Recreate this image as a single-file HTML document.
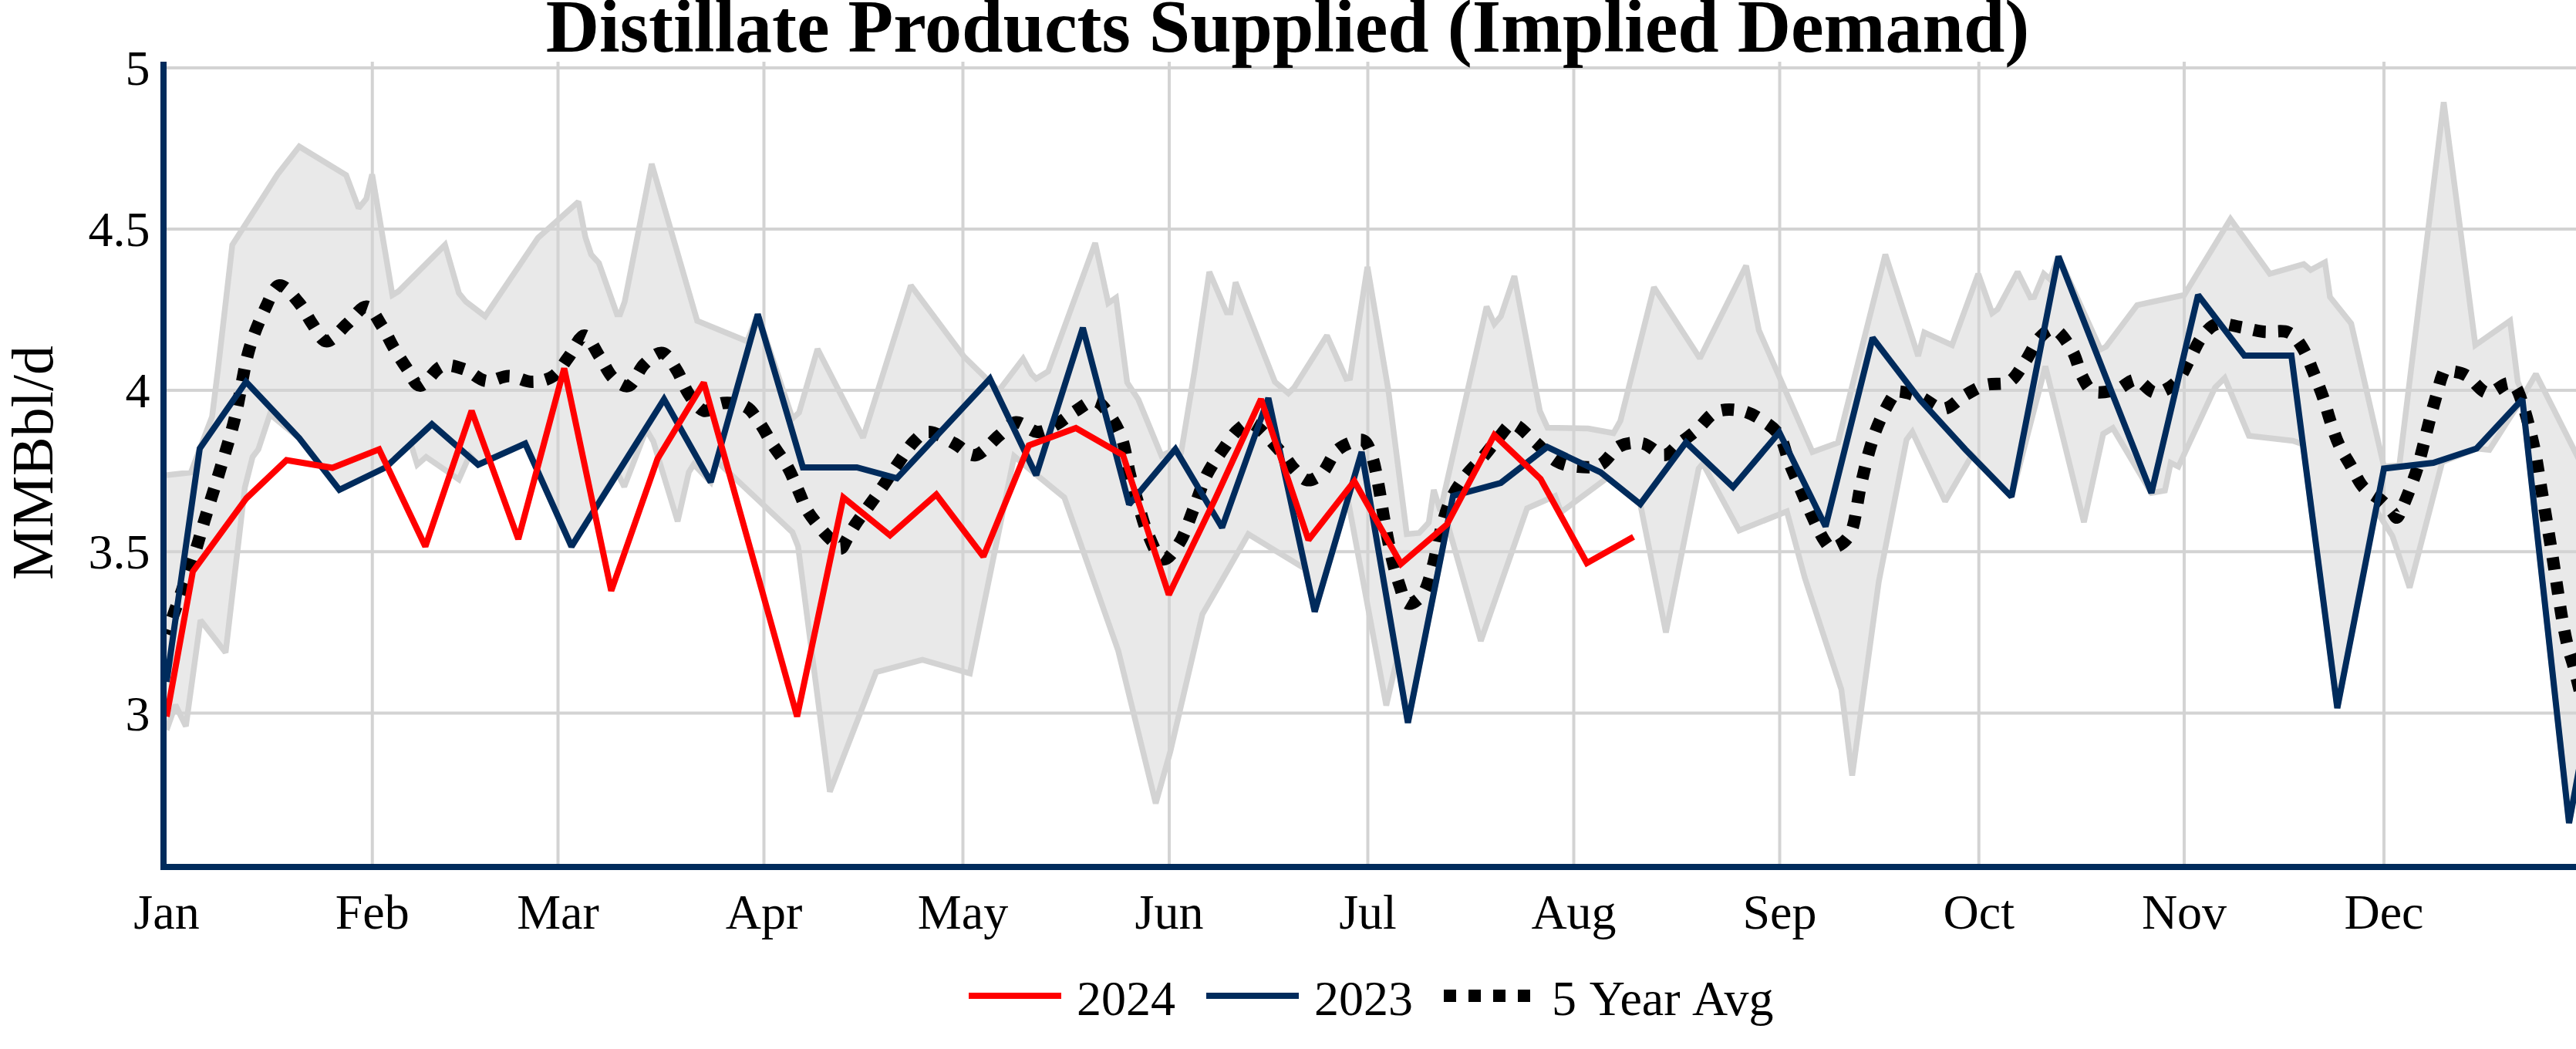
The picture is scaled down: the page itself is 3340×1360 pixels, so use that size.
<!DOCTYPE html>
<html><head><meta charset="utf-8"><title>Distillate Products Supplied (Implied Demand)</title>
<style>
html,body{margin:0;padding:0;background:#fff;}
body{width:3340px;height:1360px;overflow:hidden;}
svg{display:block;}
text{font-family:"Liberation Serif",serif;fill:#000;}
</style></head><body>
<svg width="3340" height="1360" viewBox="0 0 3340 1360">
<rect x="0" y="0" width="3340" height="1360" fill="#ffffff"/>
<defs><clipPath id="plot"><rect x="216" y="80" width="3124" height="1040"/></clipPath></defs>
<g stroke="#d3d3d3" stroke-width="4" fill="none">
<line x1="482.75" y1="80" x2="482.75" y2="1120"/>
<line x1="723.5" y1="80" x2="723.5" y2="1120"/>
<line x1="990.5" y1="80" x2="990.5" y2="1120"/>
<line x1="1248.5" y1="80" x2="1248.5" y2="1120"/>
<line x1="1516" y1="80" x2="1516" y2="1120"/>
<line x1="1773.5" y1="80" x2="1773.5" y2="1120"/>
<line x1="2040.5" y1="80" x2="2040.5" y2="1120"/>
<line x1="2307.5" y1="80" x2="2307.5" y2="1120"/>
<line x1="2565.75" y1="80" x2="2565.75" y2="1120"/>
<line x1="2832" y1="80" x2="2832" y2="1120"/>
<line x1="3091" y1="80" x2="3091" y2="1120"/>
<line x1="216" y1="88" x2="3340" y2="88"/>
<line x1="216" y1="297" x2="3340" y2="297"/>
<line x1="216" y1="506" x2="3340" y2="506"/>
<line x1="216" y1="715.3" x2="3340" y2="715.3"/>
<line x1="216" y1="924.5" x2="3340" y2="924.5"/>
</g>
<g clip-path="url(#plot)">
<polygon points="216.0,616.0 247.5,612.5 275.0,540.0 282.5,480.0 301.2,317.5 360.0,226.0 388.0,190.0 448.8,227.0 465.0,270.0 475.0,257.5 482.5,226.0 508.8,382.5 517.0,377.5 577.0,317.5 595.0,380.0 604.0,391.0 629.0,410.0 697.5,308.5 750.0,261.5 759.0,307.5 766.5,330.0 776.5,341.0 800.0,407.5 804.0,407.5 810.0,391.0 845.0,212.5 904.0,416.0 968.8,442.5 982.5,407.5 1027.5,542.5 1036.0,535.0 1060.0,452.5 1119.0,567.5 1181.0,370.0 1250.0,462.5 1295.0,506.5 1326.5,465.0 1337.5,485.0 1343.5,491.0 1359.0,481.5 1420.0,315.0 1437.0,393.0 1447.0,386.0 1461.5,496.0 1476.0,518.0 1506.0,591.0 1524.0,582.5 1531.0,589.0 1539.6,537.0 1549.0,480.0 1568.0,352.5 1590.5,405.0 1595.5,405.0 1602.0,366.0 1653.0,495.0 1670.5,510.0 1678.0,502.5 1720.5,435.0 1745.5,491.0 1750.5,490.0 1773.0,346.0 1800.0,505.0 1824.0,692.5 1840.0,691.0 1852.5,677.5 1859.0,635.0 1867.5,662.5 1927.5,397.5 1937.5,420.0 1946.0,410.0 1963.5,358.0 1996.5,532.5 2006.5,554.5 2059.0,555.5 2092.0,561.5 2101.0,545.5 2144.5,372.5 2204.0,464.5 2264.0,344.5 2280.5,428.0 2289.0,447.5 2350.0,586.0 2383.0,574.0 2444.5,330.0 2487.0,461.5 2495.0,431.0 2531.0,447.5 2565.0,355.0 2583.0,406.0 2590.0,401.0 2616.0,352.5 2632.5,385.5 2637.5,385.0 2650.0,355.0 2658.0,362.0 2669.0,332.5 2723.5,453.0 2730.5,449.5 2771.0,395.5 2832.0,382.5 2892.0,284.0 2943.0,355.0 2987.0,342.5 2996.0,350.0 3014.5,340.0 3021.0,385.0 3048.5,419.5 3091.0,605.0 3111.0,603.0 3168.5,132.5 3209.5,447.5 3254.5,416.0 3264.5,495.0 3272.0,512.5 3288.0,485.0 3340.0,588.0 3350.0,608.0 3350.0,965.0 3331.0,1067.0 3270.5,517.5 3259.0,534.0 3227.7,583.3 3211.0,581.5 3166.5,599.0 3124.3,761.7 3102.0,695.0 3080.0,660.0 3030.5,918.0 2986.0,576.0 2973.0,571.5 2916.0,565.0 2884.5,490.0 2872.0,502.5 2824.5,605.0 2814.5,600.0 2807.0,636.0 2789.5,639.0 2739.5,555.0 2727.0,562.5 2702.0,677.0 2652.0,475.0 2608.0,644.0 2557.0,590.0 2522.0,650.0 2479.5,560.0 2472.0,570.0 2436.0,754.0 2401.5,1005.5 2387.5,894.0 2340.0,749.0 2316.8,663.0 2254.9,687.8 2208.0,601.0 2202.4,607.7 2160.0,820.0 2126.8,653.5 2084.0,619.5 2024.0,664.0 2016.3,643.0 1980.0,659.0 1920.0,831.0 1876.8,679.0 1825.5,937.0 1811.5,853.5 1797.4,914.6 1747.5,647.0 1704.6,793.0 1692.4,737.6 1618.6,692.5 1559.0,796.5 1517.5,974.0 1498.5,1041.5 1450.0,844.0 1380.0,645.0 1345.0,616.5 1315.0,591.5 1257.5,873.0 1196.0,855.5 1136.0,871.5 1076.0,1026.5 1034.8,708.7 1027.4,690.0 929.5,598.0 921.5,625.0 899.5,602.0 893.2,612.0 878.6,676.0 847.0,572.0 838.0,557.0 809.4,631.0 800.0,612.0 741.0,708.5 681.0,575.0 620.0,602.5 609.0,590.0 595.0,621.5 552.5,592.5 541.0,602.5 532.5,575.0 500.0,606.0 440.0,635.0 388.0,568.0 350.0,537.0 335.0,582.5 327.5,592.5 317.5,632.0 292.5,846.0 260.0,804.0 241.0,941.5 227.5,914.0 216.0,946.5" fill="rgba(211,211,211,0.5)" stroke="none"/>
<polyline points="216.0,616.0 247.5,612.5 275.0,540.0 282.5,480.0 301.2,317.5 360.0,226.0 388.0,190.0 448.8,227.0 465.0,270.0 475.0,257.5 482.5,226.0 508.8,382.5 517.0,377.5 577.0,317.5 595.0,380.0 604.0,391.0 629.0,410.0 697.5,308.5 750.0,261.5 759.0,307.5 766.5,330.0 776.5,341.0 800.0,407.5 804.0,407.5 810.0,391.0 845.0,212.5 904.0,416.0 968.8,442.5 982.5,407.5 1027.5,542.5 1036.0,535.0 1060.0,452.5 1119.0,567.5 1181.0,370.0 1250.0,462.5 1295.0,506.5 1326.5,465.0 1337.5,485.0 1343.5,491.0 1359.0,481.5 1420.0,315.0 1437.0,393.0 1447.0,386.0 1461.5,496.0 1476.0,518.0 1506.0,591.0 1524.0,582.5 1531.0,589.0 1539.6,537.0 1549.0,480.0 1568.0,352.5 1590.5,405.0 1595.5,405.0 1602.0,366.0 1653.0,495.0 1670.5,510.0 1678.0,502.5 1720.5,435.0 1745.5,491.0 1750.5,490.0 1773.0,346.0 1800.0,505.0 1824.0,692.5 1840.0,691.0 1852.5,677.5 1859.0,635.0 1867.5,662.5 1927.5,397.5 1937.5,420.0 1946.0,410.0 1963.5,358.0 1996.5,532.5 2006.5,554.5 2059.0,555.5 2092.0,561.5 2101.0,545.5 2144.5,372.5 2204.0,464.5 2264.0,344.5 2280.5,428.0 2289.0,447.5 2350.0,586.0 2383.0,574.0 2444.5,330.0 2487.0,461.5 2495.0,431.0 2531.0,447.5 2565.0,355.0 2583.0,406.0 2590.0,401.0 2616.0,352.5 2632.5,385.5 2637.5,385.0 2650.0,355.0 2658.0,362.0 2669.0,332.5 2723.5,453.0 2730.5,449.5 2771.0,395.5 2832.0,382.5 2892.0,284.0 2943.0,355.0 2987.0,342.5 2996.0,350.0 3014.5,340.0 3021.0,385.0 3048.5,419.5 3091.0,605.0 3111.0,603.0 3168.5,132.5 3209.5,447.5 3254.5,416.0 3264.5,495.0 3272.0,512.5 3288.0,485.0 3340.0,588.0 3350.0,608.0" fill="none" stroke="#d3d3d3" stroke-width="7.5" stroke-linejoin="miter" stroke-miterlimit="2"/>
<polyline points="216.0,946.5 227.5,914.0 241.0,941.5 260.0,804.0 292.5,846.0 317.5,632.0 327.5,592.5 335.0,582.5 350.0,537.0 388.0,568.0 440.0,635.0 500.0,606.0 532.5,575.0 541.0,602.5 552.5,592.5 595.0,621.5 609.0,590.0 620.0,602.5 681.0,575.0 741.0,708.5 800.0,612.0 809.4,631.0 838.0,557.0 847.0,572.0 878.6,676.0 893.2,612.0 899.5,602.0 921.5,625.0 929.5,598.0 1027.4,690.0 1034.8,708.7 1076.0,1026.5 1136.0,871.5 1196.0,855.5 1257.5,873.0 1315.0,591.5 1345.0,616.5 1380.0,645.0 1450.0,844.0 1498.5,1041.5 1517.5,974.0 1559.0,796.5 1618.6,692.5 1692.4,737.6 1704.6,793.0 1747.5,647.0 1797.4,914.6 1811.5,853.5 1825.5,937.0 1876.8,679.0 1920.0,831.0 1980.0,659.0 2016.3,643.0 2024.0,664.0 2084.0,619.5 2126.8,653.5 2160.0,820.0 2202.4,607.7 2208.0,601.0 2254.9,687.8 2316.8,663.0 2340.0,749.0 2387.5,894.0 2401.5,1005.5 2436.0,754.0 2472.0,570.0 2479.5,560.0 2522.0,650.0 2557.0,590.0 2608.0,644.0 2652.0,475.0 2702.0,677.0 2727.0,562.5 2739.5,555.0 2789.5,639.0 2807.0,636.0 2814.5,600.0 2824.5,605.0 2872.0,502.5 2884.5,490.0 2916.0,565.0 2973.0,571.5 2986.0,576.0 3030.5,918.0 3080.0,660.0 3102.0,695.0 3124.3,761.7 3166.5,599.0 3211.0,581.5 3227.7,583.3 3259.0,534.0 3270.5,517.5 3331.0,1067.0 3350.0,965.0" fill="none" stroke="#d3d3d3" stroke-width="7.5" stroke-linejoin="miter" stroke-miterlimit="2"/>
<path d="M216.0,822.0C221.7,805.8 241.8,749.5 250.0,725.0C258.2,700.5 259.2,694.2 265.0,675.0C270.8,655.8 278.3,632.5 285.0,610.0C291.7,587.5 298.8,565.8 305.0,540.0C311.2,514.2 315.8,478.8 322.5,455.0C329.2,431.2 338.3,411.7 345.0,397.5C351.7,383.3 355.4,370.8 362.5,370.0C369.6,369.2 380.4,384.2 387.5,392.5C394.6,400.8 399.0,411.7 405.0,420.0C411.0,428.3 416.0,442.5 423.5,442.5C431.0,442.5 441.4,427.5 450.0,420.0C458.6,412.5 467.5,397.1 475.0,397.5C482.5,397.9 489.2,413.8 495.0,422.5C500.8,431.2 504.6,440.8 510.0,450.0C515.4,459.2 521.7,469.2 527.5,477.5C533.3,485.8 537.5,500.4 545.0,500.0C552.5,499.6 562.9,478.5 572.5,475.0C582.1,471.5 592.9,475.8 602.5,479.0C612.1,482.2 620.4,492.6 630.0,494.0C639.6,495.4 650.0,487.3 660.0,487.5C670.0,487.7 680.4,495.0 690.0,495.0C699.6,495.0 709.6,492.9 717.5,487.5C725.4,482.1 730.8,471.2 737.5,462.5C744.2,453.8 750.8,435.0 757.5,435.0C764.2,435.0 771.2,453.3 777.5,462.5C783.8,471.7 788.6,483.8 795.0,490.0C801.4,496.2 809.3,502.9 816.0,500.0C822.7,497.1 827.8,479.6 835.0,472.5C842.2,465.4 851.9,456.2 859.0,457.5C866.1,458.8 871.9,471.2 877.5,480.0C883.1,488.8 886.7,501.2 892.5,510.0C898.3,518.8 905.0,530.4 912.5,532.5C920.0,534.6 928.3,523.3 937.5,522.5C946.7,521.7 959.4,522.9 967.5,527.5C975.6,532.1 980.3,541.9 986.0,550.0C991.7,558.1 995.7,566.8 1001.5,576.0C1007.3,585.2 1015.2,594.7 1021.0,605.0C1026.8,615.3 1031.7,628.4 1036.0,638.0C1040.3,647.6 1041.9,654.2 1047.0,662.5C1052.1,670.8 1060.7,681.1 1066.5,688.0C1072.3,694.9 1078.0,700.2 1082.0,704.0C1086.0,707.8 1087.8,711.8 1090.5,711.0C1093.2,710.2 1094.9,704.2 1098.0,699.0C1101.1,693.8 1103.8,687.8 1109.0,680.0C1114.2,672.2 1123.0,660.8 1129.0,652.5C1135.0,644.2 1139.0,638.8 1145.0,630.0C1151.0,621.2 1158.3,609.6 1165.0,600.0C1171.7,590.4 1178.3,579.2 1185.0,572.5C1191.7,565.8 1196.2,559.6 1205.0,560.0C1213.8,560.4 1227.5,570.0 1237.5,575.0C1247.5,580.0 1255.4,591.7 1265.0,590.0C1274.6,588.3 1286.2,572.1 1295.0,565.0C1303.8,557.9 1309.2,548.3 1317.5,547.5C1325.8,546.7 1336.2,559.6 1345.0,560.0C1353.8,560.4 1361.7,554.6 1370.0,550.0C1378.3,545.4 1386.7,537.5 1395.0,532.5C1403.3,527.5 1412.5,518.8 1420.0,520.0C1427.5,521.2 1434.2,531.7 1440.0,540.0C1445.8,548.3 1450.8,557.5 1455.0,570.0C1459.2,582.5 1461.7,601.7 1465.0,615.0C1468.3,628.3 1471.2,637.5 1475.0,650.0C1478.8,662.5 1482.1,677.5 1487.5,690.0C1492.9,702.5 1500.4,722.9 1507.5,725.0C1514.6,727.1 1523.3,713.3 1530.0,702.5C1536.7,691.7 1541.7,674.6 1547.5,660.0C1553.3,645.4 1558.3,628.3 1565.0,615.0C1571.7,601.7 1580.8,589.6 1587.5,580.0C1594.2,570.4 1598.8,562.5 1605.0,557.5C1611.2,552.5 1615.8,545.4 1625.0,550.0C1634.2,554.6 1651.2,575.4 1660.0,585.0C1668.8,594.6 1671.7,601.2 1677.5,607.5C1683.3,613.8 1688.8,621.7 1695.0,622.5C1701.2,623.3 1708.8,618.8 1715.0,612.5C1721.2,606.2 1725.8,591.7 1732.5,585.0C1739.2,578.3 1748.8,574.6 1755.0,572.5C1761.2,570.4 1765.8,568.8 1770.0,572.5C1774.2,576.2 1777.1,585.4 1780.0,595.0C1782.9,604.6 1785.0,616.7 1787.5,630.0C1790.0,643.3 1792.1,659.2 1795.0,675.0C1797.9,690.8 1801.7,710.8 1805.0,725.0C1808.3,739.2 1811.7,750.4 1815.0,760.0C1818.3,769.6 1820.0,780.8 1825.0,782.5C1830.0,784.2 1839.6,777.9 1845.0,770.0C1850.4,762.1 1853.8,748.3 1857.5,735.0C1861.2,721.7 1863.8,704.2 1867.5,690.0C1871.2,675.8 1874.6,662.1 1880.0,650.0C1885.4,637.9 1892.5,627.5 1900.0,617.5C1907.5,607.5 1917.5,598.8 1925.0,590.0C1932.5,581.2 1938.8,571.7 1945.0,565.0C1951.2,558.3 1955.0,548.8 1962.5,550.0C1970.0,551.2 1980.8,564.6 1990.0,572.5C1999.2,580.4 2008.3,592.1 2017.5,597.5C2026.7,602.9 2035.4,604.2 2045.0,605.0C2054.6,605.8 2065.8,606.9 2075.0,602.5C2084.2,598.1 2090.8,583.1 2100.0,578.5C2109.2,573.9 2120.4,573.1 2130.0,575.0C2139.6,576.9 2149.6,590.0 2157.5,590.0C2165.4,590.0 2170.4,580.4 2177.5,575.0C2184.6,569.6 2192.1,564.3 2200.0,557.5C2207.9,550.7 2215.4,538.2 2225.0,534.0C2234.6,529.8 2247.5,530.7 2257.5,532.5C2267.5,534.3 2276.7,539.6 2285.0,545.0C2293.3,550.4 2301.7,555.8 2307.5,565.0C2313.3,574.2 2315.4,588.3 2320.0,600.0C2324.6,611.7 2330.0,623.3 2335.0,635.0C2340.0,646.7 2345.0,659.2 2350.0,670.0C2355.0,680.8 2360.4,693.3 2365.0,700.0C2369.6,706.7 2371.7,711.7 2377.5,710.0C2383.3,708.3 2394.2,703.3 2400.0,690.0C2405.8,676.7 2408.3,648.3 2412.5,630.0C2416.7,611.7 2420.8,594.2 2425.0,580.0C2429.2,565.8 2432.5,556.2 2437.5,545.0C2442.5,533.8 2450.8,518.8 2455.0,512.5C2459.2,506.2 2456.7,507.1 2462.5,507.5C2468.3,507.9 2480.4,511.2 2490.0,515.0C2499.6,518.8 2510.4,530.4 2520.0,530.0C2529.6,529.6 2538.3,517.7 2547.5,512.5C2556.7,507.3 2565.4,501.9 2575.0,499.0C2584.6,496.1 2596.7,499.8 2605.0,495.0C2613.3,490.2 2618.3,479.6 2625.0,470.0C2631.7,460.4 2638.3,444.6 2645.0,437.5C2651.7,430.4 2658.0,424.6 2665.0,427.5C2672.0,430.4 2681.2,445.0 2687.0,455.0C2692.8,465.0 2694.9,478.8 2699.5,487.5C2704.1,496.2 2707.0,504.6 2714.5,507.5C2722.0,510.4 2735.3,507.5 2744.5,505.0C2753.7,502.5 2761.2,491.8 2769.5,492.5C2777.8,493.2 2785.8,508.6 2794.5,509.0C2803.2,509.4 2814.5,502.3 2822.0,495.0C2829.5,487.7 2834.1,474.6 2839.5,465.0C2844.9,455.4 2848.7,445.0 2854.5,437.5C2860.3,430.0 2866.2,422.2 2874.5,420.0C2882.8,417.8 2894.5,422.3 2904.5,424.0C2914.5,425.7 2924.1,428.8 2934.5,430.0C2944.9,431.2 2958.4,427.3 2967.0,431.0C2975.6,434.7 2980.6,443.4 2986.0,452.0C2991.4,460.6 2995.2,472.0 2999.5,482.5C3003.8,493.0 3008.2,504.2 3012.0,515.0C3015.8,525.8 3018.6,537.2 3022.0,547.5C3025.4,557.8 3028.4,567.4 3032.7,576.7C3037.0,586.0 3042.4,594.1 3047.7,603.3C3053.0,612.5 3057.6,624.1 3064.3,631.7C3071.0,639.3 3081.6,643.8 3087.7,649.0C3093.8,654.2 3097.7,659.3 3101.0,663.0C3104.3,666.7 3105.6,671.3 3107.7,671.0C3109.8,670.7 3110.7,667.0 3113.5,661.0C3116.3,655.0 3120.8,644.0 3124.3,635.0C3127.8,626.0 3131.2,616.7 3134.3,606.7C3137.4,596.7 3139.9,585.8 3142.7,575.0C3145.5,564.2 3148.2,552.2 3151.0,541.7C3153.8,531.2 3156.7,520.8 3159.3,511.7C3161.9,502.6 3164.3,492.1 3166.5,487.0C3168.7,481.9 3167.5,481.1 3172.7,481.0C3177.9,480.9 3189.1,482.0 3197.7,486.7C3206.3,491.4 3215.4,507.3 3224.3,509.0C3233.2,510.7 3244.6,497.9 3251.0,497.0C3257.4,496.1 3259.1,497.8 3262.7,503.3C3266.3,508.8 3269.6,520.5 3272.7,530.0C3275.8,539.5 3278.5,550.0 3281.0,560.0C3283.5,570.0 3285.8,580.0 3287.7,590.0C3289.6,600.0 3291.0,610.0 3292.7,620.0C3294.4,630.0 3296.0,640.0 3297.7,650.0C3299.4,660.0 3301.0,670.0 3302.7,680.0C3304.4,690.0 3306.0,699.7 3307.7,710.0C3309.4,720.3 3311.0,731.2 3312.7,742.0C3314.4,752.8 3316.0,764.3 3317.7,775.0C3319.4,785.7 3320.8,795.5 3322.7,806.0C3324.6,816.5 3326.9,828.3 3329.3,838.0C3331.7,847.7 3334.4,854.3 3337.0,864.0C3339.6,873.7 3343.7,890.7 3345.0,896.0" fill="none" stroke="#000" stroke-width="16" stroke-dasharray="16 16" stroke-dashoffset="9.7"/>
<polyline points="216.0,884.0 259.0,581.5 319.0,495.0 388.0,568.0 440.0,635.0 500.0,606.0 560.0,550.0 620.0,602.5 681.0,575.0 741.0,708.5 801.0,613.0 861.0,517.5 921.5,625.0 982.5,407.5 1041.0,606.0 1111.0,606.0 1163.0,620.0 1223.0,556.0 1283.5,491.0 1343.5,616.0 1404.0,425.0 1464.0,654.0 1524.0,582.5 1584.5,684.0 1644.5,516.0 1704.6,793.0 1765.5,586.0 1825.5,937.0 1884.0,643.0 1946.0,626.0 2006.0,579.5 2075.4,612.4 2126.8,653.5 2186.0,573.5 2247.0,631.5 2307.0,560.5 2367.0,682.5 2428.0,438.0 2490.0,519.0 2548.5,583.0 2608.0,644.0 2669.0,332.5 2729.0,485.5 2789.5,639.0 2850.0,382.5 2910.0,461.0 2971.0,461.0 3030.5,918.0 3091.0,607.5 3155.0,600.0 3211.0,581.5 3270.5,517.5 3331.0,1067.0 3391.5,741.0" fill="none" stroke="#002b5c" stroke-width="8" stroke-linejoin="miter" stroke-miterlimit="2"/>
<polyline points="216.0,929.0 250.0,741.0 319.5,646.0 371.5,596.5 431.0,606.5 491.5,582.5 551.5,708.5 611.5,532.5 672.0,699.0 731.5,477.5 792.5,766.0 852.5,595.0 912.5,496.0 973.0,712.0 1033.5,929.0 1093.5,645.0 1154.0,694.0 1214.0,641.0 1275.0,721.5 1334.0,577.5 1395.0,555.0 1456.0,590.0 1515.5,771.0 1576.0,646.0 1635.0,517.5 1696.5,700.0 1756.0,624.0 1816.5,731.0 1876.0,680.0 1937.5,564.0 1997.5,621.0 2057.5,730.0 2118.0,696.0" fill="none" stroke="#ff0000" stroke-width="8" stroke-linejoin="miter" stroke-miterlimit="2"/>
</g>
<rect x="208" y="80" width="8" height="1048" fill="#002b5c"/>
<rect x="208" y="1120" width="3132" height="8" fill="#002b5c"/>
<text transform="translate(1669.5,67) scale(1,1.02)" x="0" y="0" font-size="96" font-weight="bold" text-anchor="middle">Distillate Products Supplied (Implied Demand)</text>
<text x="194.5" y="110" font-size="64" text-anchor="end">5</text>
<text x="194.5" y="319" font-size="64" text-anchor="end">4.5</text>
<text x="194.5" y="528" font-size="64" text-anchor="end">4</text>
<text x="194.5" y="737.3" font-size="64" text-anchor="end">3.5</text>
<text x="194.5" y="946.5" font-size="64" text-anchor="end">3</text>
<text x="216" y="1204" font-size="64" text-anchor="middle">Jan</text>
<text x="482.75" y="1204" font-size="64" text-anchor="middle">Feb</text>
<text x="723.5" y="1204" font-size="64" text-anchor="middle">Mar</text>
<text x="990.5" y="1204" font-size="64" text-anchor="middle">Apr</text>
<text x="1248.5" y="1204" font-size="64" text-anchor="middle">May</text>
<text x="1516" y="1204" font-size="64" text-anchor="middle">Jun</text>
<text x="1773.5" y="1204" font-size="64" text-anchor="middle">Jul</text>
<text x="2040.5" y="1204" font-size="64" text-anchor="middle">Aug</text>
<text x="2307.5" y="1204" font-size="64" text-anchor="middle">Sep</text>
<text x="2565.75" y="1204" font-size="64" text-anchor="middle">Oct</text>
<text x="2832" y="1204" font-size="64" text-anchor="middle">Nov</text>
<text x="3091" y="1204" font-size="64" text-anchor="middle">Dec</text>
<text transform="translate(68,600) rotate(-90)" font-size="76" text-anchor="middle">MMBbl/d</text>
<line x1="1256" y1="1291" x2="1376" y2="1291" stroke="#ff0000" stroke-width="8"/>
<text x="1396" y="1316.2" font-size="64">2024</text>
<line x1="1564" y1="1291" x2="1684" y2="1291" stroke="#002b5c" stroke-width="8"/>
<text x="1704" y="1316.2" font-size="64">2023</text>
<line x1="1872" y1="1291" x2="1992" y2="1291" stroke="#000" stroke-width="16" stroke-dasharray="16 16"/>
<text x="2012" y="1316.2" font-size="64" style="word-spacing:3px">5 Year Avg</text>
</svg></body></html>
